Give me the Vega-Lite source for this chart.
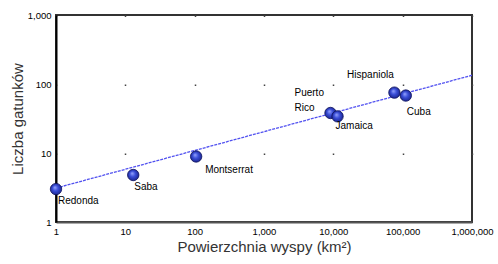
{
  "$schema": "https://vega.github.io/schema/vega-lite/v6.json",
  "width": 416,
  "height": 207,
  "autosize": {"type": "none"},
  "padding": {"left": 56, "top": 15, "right": 26, "bottom": 42},
  "background": "white",
  "config": {
    "view": {"stroke": "#333", "strokeWidth": 2},
    "font": "Liberation Sans",
    "text": {"font": "Liberation Sans", "fontSize": 10, "color": "black"}
  },
  "datasets": {
    "islands": [
      {"name": "Redonda", "area": 1, "species": 3},
      {"name": "Saba", "area": 13, "species": 4.8},
      {"name": "Montserrat", "area": 105, "species": 8.9},
      {"name": "Puerto Rico", "area": 9100, "species": 38},
      {"name": "Jamaica", "area": 11500, "species": 34},
      {"name": "Hispaniola", "area": 76000, "species": 75},
      {"name": "Cuba", "area": 111000, "species": 68}
    ],
    "trend": [
      {"area": 1, "species": 3.1},
      {"area": 1000000, "species": 134}
    ]
  },
  "layer": [
    {
      "data": {"name": "trend"},
      "mark": {"type": "line", "color": "#5252f0", "strokeWidth": 1.3, "strokeDash": [3, 1], "clip": true},
      "encoding": {
        "x": {
          "field": "area", "type": "quantitative",
          "scale": {"type": "log", "domain": [1, 1000000]},
          "axis": {
            "orient": "bottom",
            "values": [1, 10, 100, 1000, 10000, 100000, 1000000],
            "format": ",.0f",
            "title": "Powierzchnia wyspy (km²)",
            "grid": true, "gridDash": [1.5, 67.5], "gridColor": "#444", "gridWidth": 1.5,
            "ticks": false,
            "domainColor": "#555", "domainWidth": 2,
            "labelFont": "Liberation Sans", "labelFontSize": 9.5, "labelColor": "black",
            "labelPadding": 4, "labelOverlap": false, "labelFlush": false, "labelBound": false,
            "titleFont": "Liberation Sans", "titleFontSize": 15, "titleFontWeight": "normal",
            "titleColor": "#333", "titlePadding": 4
          }
        },
        "y": {
          "field": "species", "type": "quantitative",
          "scale": {"type": "log", "domain": [1, 1000]},
          "axis": {
            "orient": "left",
            "values": [1, 10, 100, 1000],
            "format": ",.0f",
            "title": "Liczba gatunków",
            "grid": false,
            "ticks": false,
            "domainColor": "black", "domainWidth": 2,
            "labelFont": "Liberation Sans", "labelFontSize": 9.5, "labelColor": "black",
            "labelPadding": 5, "labelOverlap": false, "labelFlush": false, "labelBound": false,
            "titleFont": "Liberation Sans", "titleFontSize": 15, "titleFontWeight": "normal",
            "titleColor": "#333", "titlePadding": 2
          }
        }
      }
    },
    {
      "data": {"name": "islands"},
      "mark": {
        "type": "point", "shape": "circle", "filled": true, "size": 130,
        "opacity": 1,
        "fill": {
          "gradient": "radial",
          "x1": 0.4, "y1": 0.35, "r1": 0,
          "x2": 0.5, "y2": 0.5, "r2": 0.55,
          "stops": [
            {"offset": 0, "color": "#9aa8ff"},
            {"offset": 0.45, "color": "#3a4ed8"},
            {"offset": 1, "color": "#18228a"}
          ]
        },
        "stroke": "#0b0f5a", "strokeWidth": 0.8
      },
      "encoding": {
        "x": {"field": "area", "type": "quantitative", "scale": {"type": "log", "domain": [1, 1000000]}},
        "y": {"field": "species", "type": "quantitative", "scale": {"type": "log", "domain": [1, 1000]}}
      }
    },
    {
      "data": {"name": "islands"},
      "transform": [{"filter": "datum.name === 'Redonda'"}],
      "mark": {"type": "text", "align": "left", "baseline": "top", "dx": 2, "dy": 7},
      "encoding": {
        "x": {"field": "area", "type": "quantitative", "scale": {"type": "log", "domain": [1, 1000000]}},
        "y": {"field": "species", "type": "quantitative", "scale": {"type": "log", "domain": [1, 1000]}},
        "text": {"field": "name"}
      }
    },
    {
      "data": {"name": "islands"},
      "transform": [{"filter": "datum.name === 'Saba'"}],
      "mark": {"type": "text", "align": "left", "baseline": "top", "dx": 1, "dy": 7},
      "encoding": {
        "x": {"field": "area", "type": "quantitative", "scale": {"type": "log", "domain": [1, 1000000]}},
        "y": {"field": "species", "type": "quantitative", "scale": {"type": "log", "domain": [1, 1000]}},
        "text": {"field": "name"}
      }
    },
    {
      "data": {"name": "islands"},
      "transform": [{"filter": "datum.name === 'Montserrat'"}],
      "mark": {"type": "text", "align": "left", "baseline": "top", "dx": 9, "dy": 9},
      "encoding": {
        "x": {"field": "area", "type": "quantitative", "scale": {"type": "log", "domain": [1, 1000000]}},
        "y": {"field": "species", "type": "quantitative", "scale": {"type": "log", "domain": [1, 1000]}},
        "text": {"field": "name"}
      }
    },
    {
      "data": {"name": "islands"},
      "transform": [{"filter": "datum.name === 'Puerto Rico'"}],
      "mark": {"type": "text", "align": "left", "baseline": "top", "dx": -36, "dy": -25, "lineBreak": " ", "lineHeight": 15},
      "encoding": {
        "x": {"field": "area", "type": "quantitative", "scale": {"type": "log", "domain": [1, 1000000]}},
        "y": {"field": "species", "type": "quantitative", "scale": {"type": "log", "domain": [1, 1000]}},
        "text": {"field": "name"}
      }
    },
    {
      "data": {"name": "islands"},
      "transform": [{"filter": "datum.name === 'Jamaica'"}],
      "mark": {"type": "text", "align": "left", "baseline": "top", "dx": -2, "dy": 5},
      "encoding": {
        "x": {"field": "area", "type": "quantitative", "scale": {"type": "log", "domain": [1, 1000000]}},
        "y": {"field": "species", "type": "quantitative", "scale": {"type": "log", "domain": [1, 1000]}},
        "text": {"field": "name"}
      }
    },
    {
      "data": {"name": "islands"},
      "transform": [{"filter": "datum.name === 'Hispaniola'"}],
      "mark": {"type": "text", "align": "center", "baseline": "top", "dx": -24, "dy": -23},
      "encoding": {
        "x": {"field": "area", "type": "quantitative", "scale": {"type": "log", "domain": [1, 1000000]}},
        "y": {"field": "species", "type": "quantitative", "scale": {"type": "log", "domain": [1, 1000]}},
        "text": {"field": "name"}
      }
    },
    {
      "data": {"name": "islands"},
      "transform": [{"filter": "datum.name === 'Cuba'"}],
      "mark": {"type": "text", "align": "left", "baseline": "top", "dx": 1, "dy": 11},
      "encoding": {
        "x": {"field": "area", "type": "quantitative", "scale": {"type": "log", "domain": [1, 1000000]}},
        "y": {"field": "species", "type": "quantitative", "scale": {"type": "log", "domain": [1, 1000]}},
        "text": {"field": "name"}
      }
    }
  ]
}
